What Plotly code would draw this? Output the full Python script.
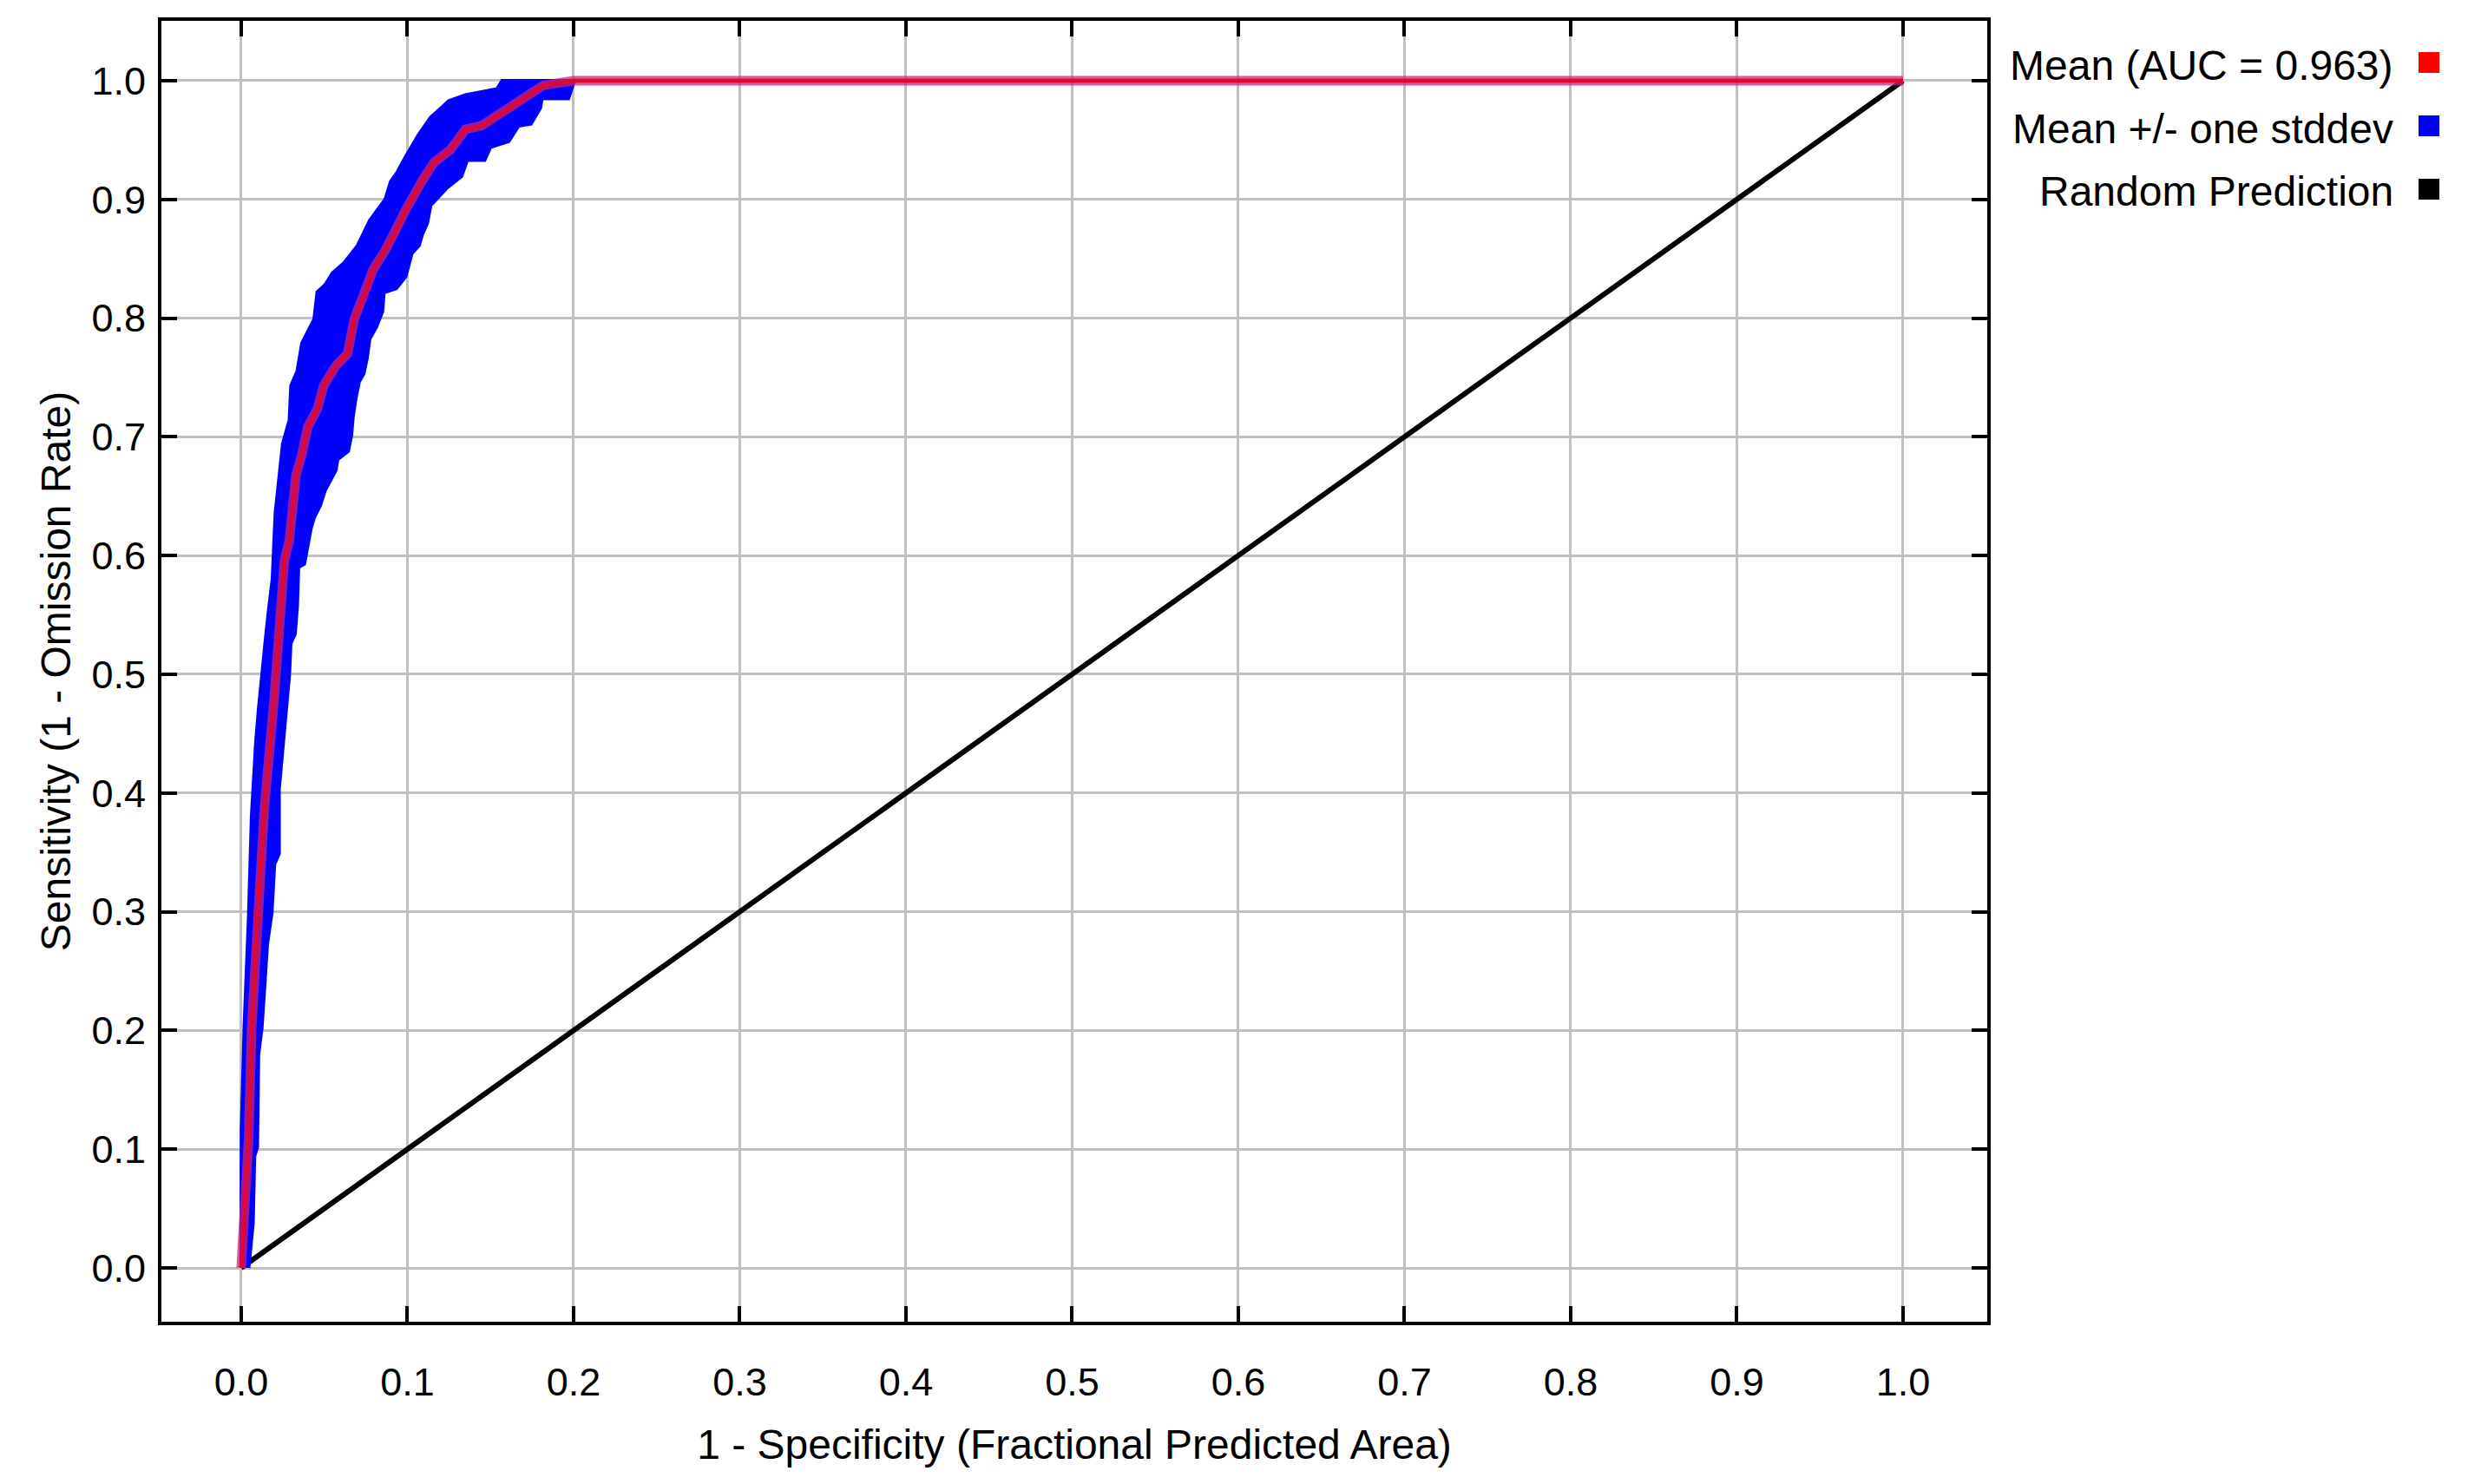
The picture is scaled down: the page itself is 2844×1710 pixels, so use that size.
import plotly.graph_objects as go

# ---- data ----
mean_x = [0.0, 0.0045, 0.0063, 0.0097, 0.014, 0.020, 0.0235, 0.026, 0.029, 0.0308, 0.033, 0.0365,
          0.040, 0.046, 0.0496, 0.057, 0.064, 0.068, 0.0757, 0.0794, 0.0867, 0.0924, 0.0997, 0.109,
          0.116, 0.126, 0.135, 0.1446, 0.1596, 0.1817, 0.2, 1.0]
mean_y = [0.0, 0.109, 0.202, 0.295, 0.388, 0.482, 0.550, 0.596, 0.613, 0.636, 0.668, 0.685,
          0.708, 0.724, 0.743, 0.760, 0.770, 0.799, 0.825, 0.841, 0.857, 0.871, 0.893, 0.916,
          0.931, 0.942, 0.959, 0.962, 0.975, 0.996, 1.0, 1.0]

upper_x = [0.0, 0.0002, 0.0019, 0.0045, 0.0063, 0.0089, 0.0106, 0.0124, 0.015, 0.0167, 0.0188,
           0.0206, 0.0235, 0.025, 0.029, 0.030, 0.0337, 0.0366, 0.0439, 0.0458, 0.0505, 0.055,
           0.0616, 0.070, 0.0773, 0.0867, 0.090, 0.094, 0.099, 0.1066, 0.114, 0.125, 0.135,
           0.154, 0.157, 1.0]
upper_y = [0.0, 0.116, 0.204, 0.295, 0.381, 0.444, 0.472, 0.500, 0.534, 0.556, 0.580,
           0.636, 0.678, 0.694, 0.714, 0.743, 0.755, 0.779, 0.799, 0.822, 0.828, 0.838,
           0.846, 0.861, 0.882, 0.900, 0.915, 0.923, 0.936, 0.954, 0.969, 0.983, 0.988,
           0.993, 1.0, 1.0]

lower_x = [0.0045, 0.0071, 0.0080, 0.0097, 0.0104, 0.0124, 0.014, 0.0157, 0.0184, 0.020,
           0.0228, 0.0228, 0.0254, 0.029, 0.0298, 0.0324, 0.0337, 0.0345, 0.038, 0.040,
           0.042, 0.0439, 0.0475, 0.0505, 0.057, 0.058, 0.0644, 0.0663, 0.0673, 0.069,
           0.071, 0.0737, 0.0757, 0.0773, 0.0813, 0.085, 0.0859, 0.0934, 0.099, 0.1027,
           0.107, 0.109, 0.112, 0.114, 0.1175, 0.124, 0.1326, 0.136, 0.1465, 0.150,
           0.161, 0.167, 0.1744, 0.180, 0.181, 0.1969, 0.2005, 1.0]
lower_y = [0.0, 0.038, 0.094, 0.1016, 0.180, 0.202, 0.2355, 0.2727, 0.299, 0.340,
           0.349, 0.4035, 0.448, 0.500, 0.526, 0.534, 0.557, 0.590, 0.593, 0.606,
           0.623, 0.632, 0.642, 0.655, 0.672, 0.681, 0.688, 0.701, 0.717, 0.733,
           0.7466, 0.753, 0.766, 0.7825, 0.7924, 0.8055, 0.8216, 0.825, 0.835, 0.8545,
           0.861, 0.8706, 0.880, 0.895, 0.900, 0.910, 0.9196, 0.933, 0.933, 0.944,
           0.949, 0.962, 0.9636, 0.977, 0.985, 0.985, 1.0, 1.0]

random_x = [0.0, 1.0]
random_y = [0.0, 1.0]

tick_vals = [0.0, 0.1, 0.2, 0.3, 0.4, 0.5, 0.6, 0.7, 0.8, 0.9, 1.0]
tick_text = ["0.0", "0.1", "0.2", "0.3", "0.4", "0.5", "0.6", "0.7", "0.8", "0.9", "1.0"]

legend_labels = ["Mean (AUC = 0.963)", "Mean +/- one stddev", "Random Prediction"]
legend_colors = ["#ff0000", "#0000ff", "#000000"]

FONT = "Liberation Sans, Arial, sans-serif"

# the page body has an 8px default margin; figure is sized to fit the window
OFF = 8
FIG_W, FIG_H = 2844 - 2 * OFF, 1710 - 2 * OFF
# plot frame in page pixels (from the reference)
PX_L, PX_R, PX_T, PX_B = 186, 2290, 24, 1523
L = PX_L - OFF
T = PX_T - OFF
R = FIG_W - (PX_R - OFF)
B = FIG_H - (PX_B - OFF)
W = FIG_W - L - R
H = FIG_H - T - B

fig = go.Figure()

# random prediction diagonal
fig.add_trace(go.Scatter(x=random_x, y=random_y, mode="lines",
                         line=dict(color="black", width=6), showlegend=False, hoverinfo="skip"))

# +/- one stddev band (polygon: upper edge then lower edge reversed)
band_x = upper_x + lower_x[::-1]
band_y = upper_y + lower_y[::-1]
fig.add_trace(go.Scatter(x=band_x, y=band_y, mode="lines", fill="toself",
                         fillcolor="#0000ff", line=dict(color="#0000ff", width=4),
                         showlegend=False, hoverinfo="skip"))

# mean curve: soft underlay + red core
fig.add_trace(go.Scatter(x=mean_x, y=mean_y, mode="lines",
                         line=dict(color="rgba(200,35,126,0.75)", width=11),
                         showlegend=False, hoverinfo="skip"))
fig.add_trace(go.Scatter(x=mean_x, y=mean_y, mode="lines",
                         line=dict(color="rgba(255,0,0,0.68)", width=5),
                         showlegend=False, hoverinfo="skip"))

axis_common = dict(
    tickmode="array", tickvals=tick_vals, ticktext=tick_text,
    showgrid=True, gridcolor="#c0c0c0", gridwidth=3,
    zeroline=False, showline=True, linecolor="black", linewidth=4, mirror="allticks",
    ticks="inside", ticklen=18, tickwidth=4, tickcolor="black",
    tickfont=dict(family=FONT, size=45, color="black"),
)

fig.update_xaxes(range=[-0.048, 1.0507], ticklabelstandoff=27,
                 title=dict(text="1 - Specificity (Fractional Predicted Area)",
                            font=dict(family=FONT, size=48, color="black"), standoff=31),
                 **axis_common)
fig.update_yaxes(range=[-0.0453, 1.0504], ticklabelstandoff=5,
                 title=dict(text="Sensitivity (1 - Omission Rate)",
                            font=dict(family=FONT, size=48, color="black"), standoff=10),
                 **axis_common)

# custom legend (text left, square marker right), positions in page pixels
text_right_px = 2760
square_cx_px = 2799
text_rows_px = [76, 149, 221]
square_rows_px = [72, 145, 218]
half = 12


def px_to_paper_x(px):
    return (px - OFF - L) / W


def px_to_paper_y(py):
    return (FIG_H - B - (py - OFF)) / H


annotations = []
shapes = []
for lab, col, ty, sy in zip(legend_labels, legend_colors, text_rows_px, square_rows_px):
    annotations.append(dict(x=px_to_paper_x(text_right_px), y=px_to_paper_y(ty),
                            xref="paper", yref="paper", xanchor="right", yanchor="middle",
                            text=lab, showarrow=False,
                            font=dict(family=FONT, size=48, color="black")))
    shapes.append(dict(type="rect", xref="paper", yref="paper",
                       x0=px_to_paper_x(square_cx_px - half), x1=px_to_paper_x(square_cx_px + half),
                       y0=px_to_paper_y(sy + half), y1=px_to_paper_y(sy - half),
                       fillcolor=col, line=dict(width=0)))

fig.update_layout(
    width=FIG_W, height=FIG_H,
    margin=dict(l=L, r=R, t=T, b=B),
    paper_bgcolor="white", plot_bgcolor="white",
    showlegend=False,
    annotations=annotations, shapes=shapes,
    font=dict(family=FONT, color="black"),
)

fig.write_html("out.html")
